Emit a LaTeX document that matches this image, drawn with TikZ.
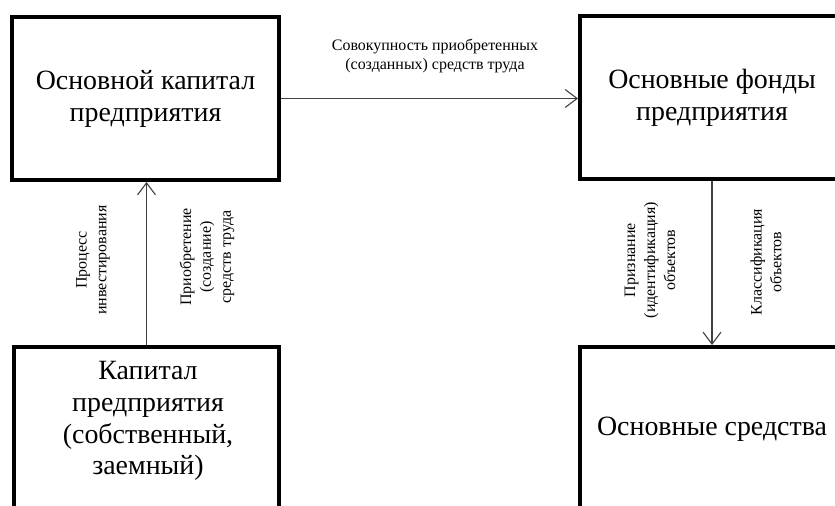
\documentclass[tikz,border=0pt]{standalone}
\usepackage{fontspec}
\setmainfont{Liberation Serif}
\usetikzlibrary{arrows.meta}
\begin{document}
\begin{tikzpicture}[x=1bp,y=-1bp,
  box/.style={draw=black, line width=4bp, rectangle, inner sep=0pt, align=center,
    font=\fontsize{28}{32}\selectfont},
  bigtxt/.style={inner sep=0pt, align=center, font=\fontsize{28}{32}\selectfont},
  lbl/.style={inner sep=0pt, align=center, font=\fontsize{16}{20}\selectfont},
  conn/.style={draw=black!75, line width=1.1bp, -{Straight Barb[length=12bp,width=18bp]}}
]
\useasboundingbox (0,0) rectangle (835,506);
\clip (0,0) rectangle (835,506);
\fill[white] (0,0) rectangle (835,506);

\node[box, minimum width=267bp, minimum height=163bp] (A) at (145.5,98.5)
  {Основной капитал\\предприятия};
\node[box, minimum width=264bp, minimum height=163bp] (B) at (712,98)
  {Основные фонды\\предприятия};
\node[box, minimum width=265bp, minimum height=165bp] (C) at (146.5,429.5) {};
\node[bigtxt] (Ct) at (148,421) {Капитал\\предприятия\\(собственный,\\заемный)};
\node[box, minimum width=264bp, minimum height=165bp] (D) at (712,429.5)
  {Основные средства};

\draw[conn] (A.east) -- (A.east -| B.west);
\draw[conn] (C.north) -- (C.north |- A.south);
\draw[conn] (B.south) -- (D.north);

\node[lbl] (t1) at (435,56) {Совокупность приобретенных\\(созданных) средств труда};
\node[lbl, rotate=90] (t2) at (93,260) {Процесс\\инвестирования};
\node[lbl, rotate=90] (t3) at (207,257) {Приобретение\\(создание)\\средств труда};
\node[lbl, rotate=90] (t4) at (650,260) {Признание\\(идентификация)\\объектов};
\node[lbl, rotate=90] (t5) at (766,262) {Классификация\\объектов};
\end{tikzpicture}
\end{document}
